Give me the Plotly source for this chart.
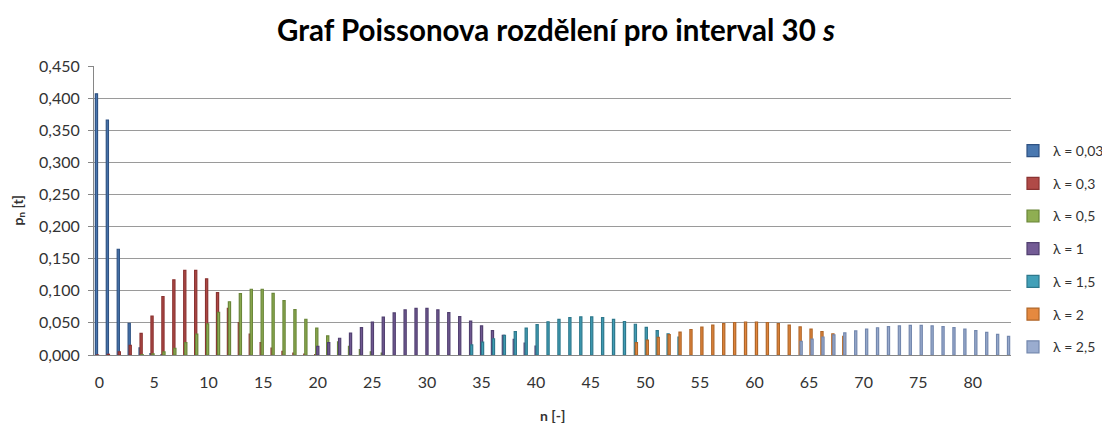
import plotly.graph_objects as go

# ---- data ----
labels = ["λ = 0,03", "λ = 0,3", "λ = 0,5", "λ = 1", "λ = 1,5", "λ = 2", "λ = 2,5"]

n_a = list(range(0, 7))
p_a = [0.4066, 0.3659, 0.1647, 0.0494, 0.0111, 0.0020, 0.0003]

n_b = list(range(0, 21))
p_b = [0.0001, 0.0011, 0.0050, 0.0150, 0.0337, 0.0607, 0.0911, 0.1171, 0.1318, 0.1318,
       0.1186, 0.0970, 0.0728, 0.0504, 0.0324, 0.0194, 0.0109, 0.0058, 0.0029, 0.0014, 0.0006]

n_c = list(range(4, 27))
p_c = [0.0006, 0.0019, 0.0048, 0.0104, 0.0194, 0.0324, 0.0486, 0.0663, 0.0829, 0.0956,
       0.1024, 0.1024, 0.0960, 0.0847, 0.0706, 0.0557, 0.0418, 0.0299, 0.0204, 0.0133,
       0.0083, 0.0050, 0.0029]

n_d = list(range(20, 41))
p_d = [0.0134, 0.0192, 0.0261, 0.0341, 0.0426, 0.0511, 0.0590, 0.0655, 0.0702, 0.0726,
       0.0726, 0.0703, 0.0659, 0.0599, 0.0529, 0.0453, 0.0378, 0.0306, 0.0242, 0.0186, 0.0140]

n_e = list(range(34, 54))
p_e = [0.0157, 0.0202, 0.0253, 0.0307, 0.0364, 0.0420, 0.0472, 0.0518, 0.0555, 0.0581,
       0.0594, 0.0594, 0.0581, 0.0556, 0.0522, 0.0479, 0.0431, 0.0381, 0.0329, 0.0280]

n_f = list(range(49, 69))
p_f = [0.0194, 0.0233, 0.0274, 0.0316, 0.0357, 0.0397, 0.0433, 0.0464, 0.0489, 0.0506,
       0.0514, 0.0514, 0.0506, 0.0490, 0.0466, 0.0437, 0.0403, 0.0366, 0.0328, 0.0290]

n_g = list(range(64, 84))
p_g = [0.0213, 0.0246, 0.0280, 0.0313, 0.0345, 0.0375, 0.0402, 0.0424, 0.0442, 0.0454,
       0.0460, 0.0460, 0.0454, 0.0442, 0.0425, 0.0404, 0.0379, 0.0351, 0.0321, 0.0290]

x_ticks = list(range(0, 81, 5))
x_ticktext = [str(v) for v in x_ticks]

series_n = [n_a, n_b, n_c, n_d, n_e, n_f, n_g]
series_p = [p_a, p_b, p_c, p_d, p_e, p_f, p_g]

fills = ["#4A78B0", "#B04A47", "#8FAE52", "#735B95", "#42A0B8", "#E5893F", "#9AACCF"]
edges = ["#2F5283", "#8A3331", "#6A8639", "#514070", "#2E788C", "#B06628", "#7488AE"]

FONT = "Lato"
bar_w = 0.20
step = 0.092

# page body adds an 8px margin; the figure is sized to fill the rest of the window
W, H = 1102, 420

fig = go.Figure()
for s in range(7):
    fig.add_trace(go.Bar(
        x=series_n[s], y=series_p[s], name=labels[s],
        width=bar_w, offset=(s - 3) * step - bar_w / 2,
        marker=dict(color=fills[s], line=dict(color=edges[s], width=1.2)),
        legendgroup=f"g{s}",
    ))

fig.update_layout(
    width=W, height=H,
    margin=dict(l=86, r=99, t=58, b=73, autoexpand=False),
    paper_bgcolor="white", plot_bgcolor="white",
    barmode="overlay",
    separators=", ",
    font=dict(family=FONT, size=16, color="#333333"),
    title=dict(text="<b>Graf Poissonova rozdělení pro interval 30 <i>s</i></b>",
               x=548 / W, xref="container", xanchor="center",
               y=1 - 23 / H, yref="container", yanchor="middle",
               font=dict(family=FONT, size=29.5, color="#000000")),
    showlegend=True,
    legend=dict(x=1005 / W, xref="container", xanchor="left",
                y=1 - 127 / H, yref="container", yanchor="top",
                font=dict(family=FONT, size=14, color="#333333"),
                tracegroupgap=11.5, itemwidth=30, maxheight=400,
                bgcolor="rgba(0,0,0,0)"),
    xaxis=dict(range=[-0.5, 83.5], tickmode="array", tickvals=x_ticks, ticktext=x_ticktext,
               showgrid=False, zeroline=False, showline=True, linecolor="#868686", linewidth=1,
               ticks="", ticklabelstandoff=13, tickfont=dict(size=16), automargin=False),
    yaxis=dict(range=[0, 0.45], dtick=0.05, tick0=0, tickformat=".3f",
               showgrid=True, gridcolor="#9A9A9A", gridwidth=1, zeroline=False,
               showline=True, linecolor="#868686", linewidth=1,
               ticks="outside", ticklen=5, tickcolor="#868686", tickfont=dict(size=16),
               ticklabelstandoff=5, automargin=False),
    annotations=[
        dict(text="<b>n [-]</b>", x=0.5, y=-60 / 289, xref="paper", yref="paper",
             xanchor="center", yanchor="middle",
             showarrow=False, font=dict(family=FONT, size=14, color="#333333")),
        dict(text="<b>p<sub>n</sub> [t]</b>", x=-76 / 917, y=0.5, xref="paper", yref="paper",
             xanchor="center", yanchor="middle",
             showarrow=False, textangle=-90, font=dict(family=FONT, size=14, color="#333333")),
    ],
)

fig.write_html("out.html")
